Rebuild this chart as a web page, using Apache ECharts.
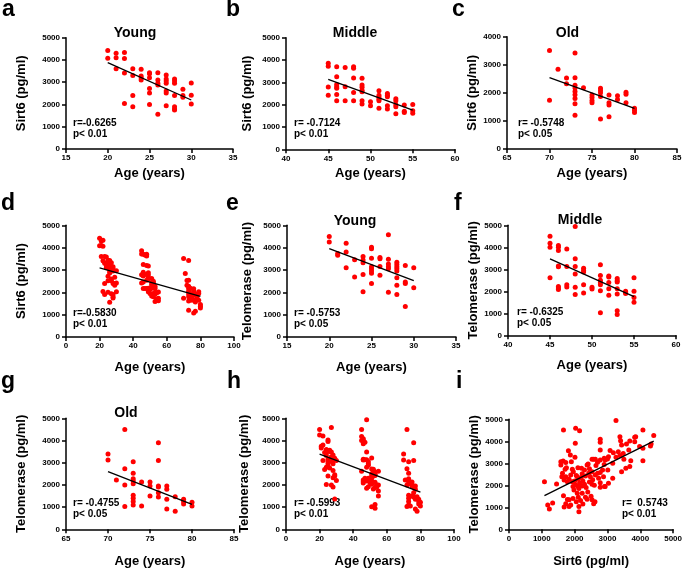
<!DOCTYPE html>
<html>
<head>
<meta charset="utf-8">
<script src="https://cdn.jsdelivr.net/npm/echarts@6/dist/echarts.min.js"></script>
<style>html,body{margin:0;padding:0;background:#fff;}#main{width:685px;height:572px;}</style>
</head>
<body>
<div id="main"></div>
<script>
// ---------- DATA ----------
var sirtYoung = [[20,4420],[20,4080],[21,4300],[21,4100],[21,3600],[22,4330],[22,4060],[22,3410],[22,2040],
[23,3600],[23,3300],[23,2400],[23,1900],[24,3580],[24,3280],[24,3200],[24,3100],
[25,3430],[25,3380],[25,3200],[25,2720],[25,2520],[25,2000],[26,3420],[26,3100],[26,2950],[26,2870],[26,1560],
[27,3320],[27,3150],[27,3050],[27,2950],[27,2600],[27,2520],[27,1940],
[28,3150],[28,3050],[28,2950],[28,2400],[28,1900],[28,1800],[28,1750],
[29,2680],[29,2400],[29,2320],[30,2970],[30,2420],[30,2020]];
var sirtMiddle = [[45,3860],[45,3720],[45,2790],[45,2420],
[46,3700],[46,3250],[46,2900],[46,2800],[46,2730],[46,2460],[46,2170],
[47,3670],[47,2800],[47,2170],[48,3700],[48,3630],[48,3200],[48,2540],[48,2170],
[49,3180],[49,2880],[49,2780],[49,2650],[49,2580],[49,2180],[49,2030],[50,2130],[50,1950],
[51,2620],[51,2420],[51,2330],[51,2240],[51,2180],[51,1840],[52,2500],[52,2420],[52,2350],[52,1950],[52,1800],
[53,2270],[53,2180],[53,2000],[53,1910],[53,1590],[54,1980],[54,1700],[54,1650],[55,2010],[55,1730],[55,1620]];
var sirtOld = [[70,3510],[70,1740],[71,2840],[72,2530],[72,2320],
[73,3420],[73,2540],[73,2270],[73,2170],[73,2050],[73,1930],[73,1800],[73,1610],[73,1200],
[74,2180],[75,1920],[75,1830],[75,1730],[75,1650],[76,2160],[76,2080],[76,2000],[76,1870],[76,1070],
[77,1920],[77,1650],[77,1570],[77,1150],[78,1900],[78,1760],[79,2020],[79,1950],[79,1650],[80,1450],[80,1380],[80,1300]];
var telYoung = [[20,4500],[20,4250],[21,3740],[21,3660],[22,4200],[22,3800],[22,3100],[23,3460],[23,2690],
[24,3600],[24,3450],[24,3320],[24,2800],[24,2020],
[25,4020],[25,3950],[25,3530],[25,3150],[25,3050],[25,2950],[25,2850],[25,2400],
[26,3560],[26,3500],[26,3160],[26,2760],[27,4580],[27,3480],[27,3270],[27,3150],[27,3050],[27,2000],
[28,3350],[28,3250],[28,3150],[28,3050],[28,2950],[28,2650],[28,2320],[28,1900],
[29,3200],[29,2460],[29,2400],[29,1370],[30,3100],[30,2200]];
var telMiddle = [[45,4500],[45,4180],[45,4000],[45,2620],
[46,4080],[46,4000],[46,3850],[46,3150],[46,3120],[46,2220],[46,2150],[46,2080],
[47,3920],[47,3130],[47,2300],[47,2200],[48,4940],[48,3480],[48,3130],[48,2790],[48,2180],[48,1850],
[49,3050],[49,2950],[49,2880],[49,2300],[49,1920],[50,2180],[50,2100],
[51,3210],[51,2720],[51,2500],[51,2400],[51,2300],[51,2030],[51,1020],
[52,2700],[52,2650],[52,2400],[52,2120],[52,1820],
[53,2580],[53,2480],[53,2420],[53,2120],[53,1880],[53,1120],[53,950],
[54,2000],[54,1950],[54,1900],[55,2620],[55,2000],[55,1720],[55,1500]];
var telOld = [[70,3390],[70,3120],[71,2220],[72,4500],[72,2730],[72,2000],[72,1030],
[73,3040],[73,2530],[73,2280],[73,2180],[73,2050],[73,1530],[73,1400],[73,1250],[73,1100],
[74,2130],[74,1050],[75,2130],[75,1950],[75,1500],[76,3900],[76,3100],[76,1950],[76,1900],[76,1650],[76,1450],
[77,1950],[77,1800],[77,1350],[77,920],[78,1470],[78,810],[79,1350],[79,1250],[79,1140],[80,1220],[80,1050]];
var sirtVsTel = [[1660,4510],[2030,4590],[2150,4480],[2020,3910],[2780,4090],[2780,3960],
[1810,3570],[1870,3380],[2010,3270],[1580,3070],[1730,3040],[1900,3070],[1580,2920],
[1930,2730],[1960,2620],[2210,2770],[2380,2920],[2410,2970],[2530,3180],[2630,3180],[2780,3150],[2930,3150],
[1710,2730],[1630,2550],[1610,2390],[1730,2390],[1680,2240],[1830,2270],[2080,2390],[2230,2520],[2110,2270],
[2330,2420],[2430,2550],[2530,2620],[2480,2390],[2630,2470],[2730,2320],[2780,2120],[2910,1940],[3030,2090],
[1080,2160],[1450,2060],[1930,2160],[2030,2010],[2130,1860],[2230,1970],[1980,1790],[2080,1640],[2230,1640],
[2110,1460],[2330,1460],[2180,1310],[2380,1370],[2530,1340],[2580,1160],
[1660,1520],[1830,1340],[1730,1160],[1880,1110],[1680,1010],[1830,1040],[2130,1040],[2130,800],
[1180,1100],[1230,920],[1330,1200],[1880,2470],[1780,2160],
[2000,2200],[2050,2450],[2150,2100],[2250,2200],[2300,2050],[2350,1900],[2450,2150],[2550,2250],[2600,2000],
[2200,2350],[2100,1950],[1950,1950],[2500,1500],[2400,1700],[2250,1150],[2050,1250],[1950,1400],[1780,1350],
[2620,1250],[2700,2550],[2850,2700],[2450,2750],[1750,2800],[1650,3100],[2100,2800],[2300,2700],[2650,2900],
[2900,2950],[2700,3050],[3000,3200],
[3260,4940],[4080,4510],[4410,4260],[3380,4210],[3860,4210],[3680,4010],[3580,3880],[3830,3980],[3430,3830],
[3080,3580],[2780,3610],[3180,3480],[3330,3530],[3480,3450],[3650,3610],[3980,3760],[4310,3790],[4330,3880],
[4080,3680],[3030,3300],[2900,3230],[3260,3270],[3380,3350],[2580,3180],[3160,3000],[3500,3180],[3710,3120],
[4080,3120],[3560,2770],[3680,2850],[3430,2620],[3160,2320],[3010,2700],[2780,2580],[2880,2390],[2780,1910],
[2930,1940],[2530,2050],[3400,4030],[3830,4180]];
var trendA = [[20,3880],[30,2200]];
var trendB = [[45,3130],[55,1760]];
var trendC = [[70,2540],[80,1450]];
var trendD = [[20,3090],[80,1820]];
var trendE = [[20,3955],[30,2520]];
var trendF = [[45,3470],[55,1760]];
var trendG = [[70,2600],[80,1125]];
var trendH = [[20,3390],[80,1670]];
var trendI = [[1080,1530],[4410,4010]];
var panelLetters = ['a','b','c','d','e','f','g','h','i'];
var panelTitles = ['Young','Middle','Old','','Young','Middle','Old','',''];
var statTexts = ['r=-0.6265\np< 0.01','r= -0.7124\np< 0.01','r= -0.5748\np< 0.05','r=-0.5830\np< 0.01',
'r= -0.5753\np< 0.05','r= -0.6325\np< 0.05','r= -0.4755\np< 0.05','r= -0.5993\np< 0.01','r=  0.5743\np< 0.01'];
var yNames = ['Sirt6 (pg/ml)','Sirt6 (pg/ml)','Sirt6 (pg/ml)','Sirt6 (pg/ml)','Telomerase (pg/ml)',
'Telomerase (pg/ml)','Telomerase (pg/ml)','Telomerase (pg/ml)','Telomerase (pg/ml)'];
var xNames = ['Age (years)','Age (years)','Age (years)','Age (years)','Age (years)','Age (years)','Age (years)','Age (years)','Sirt6 (pg/ml)'];
var xRanges = [[15,35,5],[40,60,5],[65,85,5],[0,100,20],[15,35,5],[40,60,5],[65,85,5],[0,100,20],[0,5000,1000]];
var yRanges = [[0,5000,1000],[0,5000,1000],[0,4000,1000],[0,5000,1000],[0,5000,1000],[0,5000,1000],[0,5000,1000],[0,5000,1000],[0,5000,1000]];

// ---------- LAYOUT ----------
var FONT = 'Liberation Sans, Arial, Helvetica, sans-serif';
var grids = [
  {left:66, top:37.7, width:167, height:111.3},
  {left:286, top:37.7, width:169, height:111.6},
  {left:507, top:36.7, width:170, height:112.3},
  {left:66, top:225.3, width:168, height:111.7},
  {left:287, top:225.3, width:169, height:111.7},
  {left:508, top:225.3, width:168, height:110},
  {left:66, top:418.3, width:168, height:111},
  {left:286, top:418.3, width:168, height:111},
  {left:509, top:419.3, width:167, height:110}
];
var yNameGaps = [38,32,26,38,33,27,38,35,28];
var xNameGaps = [18,18,18,24,24,24,26,26,26];
var letterPos = [[2,17],[226,17],[452,17],[1,211],[226,211],[454,211],[1,389],[227,389],[456,389]];
var titlePos = [[135,38],[355,38],[567.5,38],null,[355,226],[580,225],[126,418],null,null];
var statPos = [[73,127],[294,127],[518,127],[73,317],[294,317],[517,316],[73,507],[294,507],[622,507]];

var scatterData = [sirtYoung, sirtMiddle, sirtOld, sirtYoung.concat(sirtMiddle, sirtOld),
  telYoung, telMiddle, telOld, telYoung.concat(telMiddle, telOld), sirtVsTel];
var trends = [trendA,trendB,trendC,trendD,trendE,trendF,trendG,trendH,trendI];

var axisLine = {show:true, onZero:false, lineStyle:{color:'#000', width:1.5}};
var axisTick = {show:true, length:4, lineStyle:{color:'#000', width:1.5}};
var labelStyle = {color:'#000', fontSize:8, fontWeight:'bold', fontFamily:FONT,
  formatter:function(v){ return String(v); }};
var nameStyle = {color:'#000', fontSize:13, fontWeight:'bold', fontFamily:FONT};

var option = {
  backgroundColor:'#fff',
  animation:false,
  grid: grids.map(function(g){ return Object.assign({containLabel:false}, g); }),
  xAxis: [], yAxis: [], series: [], graphic: []
};
for (var i = 0; i < 9; i++) {
  option.xAxis.push({
    gridIndex:i, type:'value', min:xRanges[i][0], max:xRanges[i][1], interval:xRanges[i][2],
    axisLine:axisLine, axisTick:axisTick, splitLine:{show:false},
    axisLabel:Object.assign({margin:5}, labelStyle),
    name:xNames[i], nameLocation:'middle', nameGap:xNameGaps[i], nameTextStyle:nameStyle
  });
  option.yAxis.push({
    gridIndex:i, type:'value', min:yRanges[i][0], max:yRanges[i][1], interval:yRanges[i][2],
    axisLine:axisLine, axisTick:axisTick, splitLine:{show:false},
    axisLabel:Object.assign({margin:6}, labelStyle),
    name:yNames[i], nameLocation:'middle', nameGap:yNameGaps[i], nameRotate:90, nameTextStyle:nameStyle
  });
  option.series.push({
    type:'scatter', xAxisIndex:i, yAxisIndex:i, data:scatterData[i], symbolSize:5,
    itemStyle:{color:'#ff0000', opacity:1}, silent:true
  });
  option.series.push({
    type:'line', xAxisIndex:i, yAxisIndex:i, data:trends[i], symbol:'none',
    lineStyle:{color:'#000', width:1.3}, silent:true, z:3
  });
  option.graphic.push({
    type:'text', x:letterPos[i][0], y:letterPos[i][1] - 7.7,
    style:{text:panelLetters[i], fill:'#000', font:'bold 23px ' + FONT, verticalAlign:'middle'}
  });
  if (titlePos[i]) {
    option.graphic.push({
      type:'text', x:titlePos[i][0], y:titlePos[i][1] - 4.9,
      style:{text:panelTitles[i], fill:'#000', font:'bold 14px ' + FONT, align:'center', verticalAlign:'middle'}
    });
  }
  var lines = statTexts[i].split('\n');
  for (var k = 0; k < lines.length; k++) {
    option.graphic.push({
      type:'text', x:statPos[i][0], y:statPos[i][1] + k*11 - 3.5,
      style:{text:lines[k], fill:'#000', font:'bold 10px ' + FONT, align:'left', verticalAlign:'middle'}
    });
  }
}
var chart = echarts.init(document.getElementById('main'), null, {renderer:'canvas'});
chart.setOption(option);
</script>
</body>
</html>
